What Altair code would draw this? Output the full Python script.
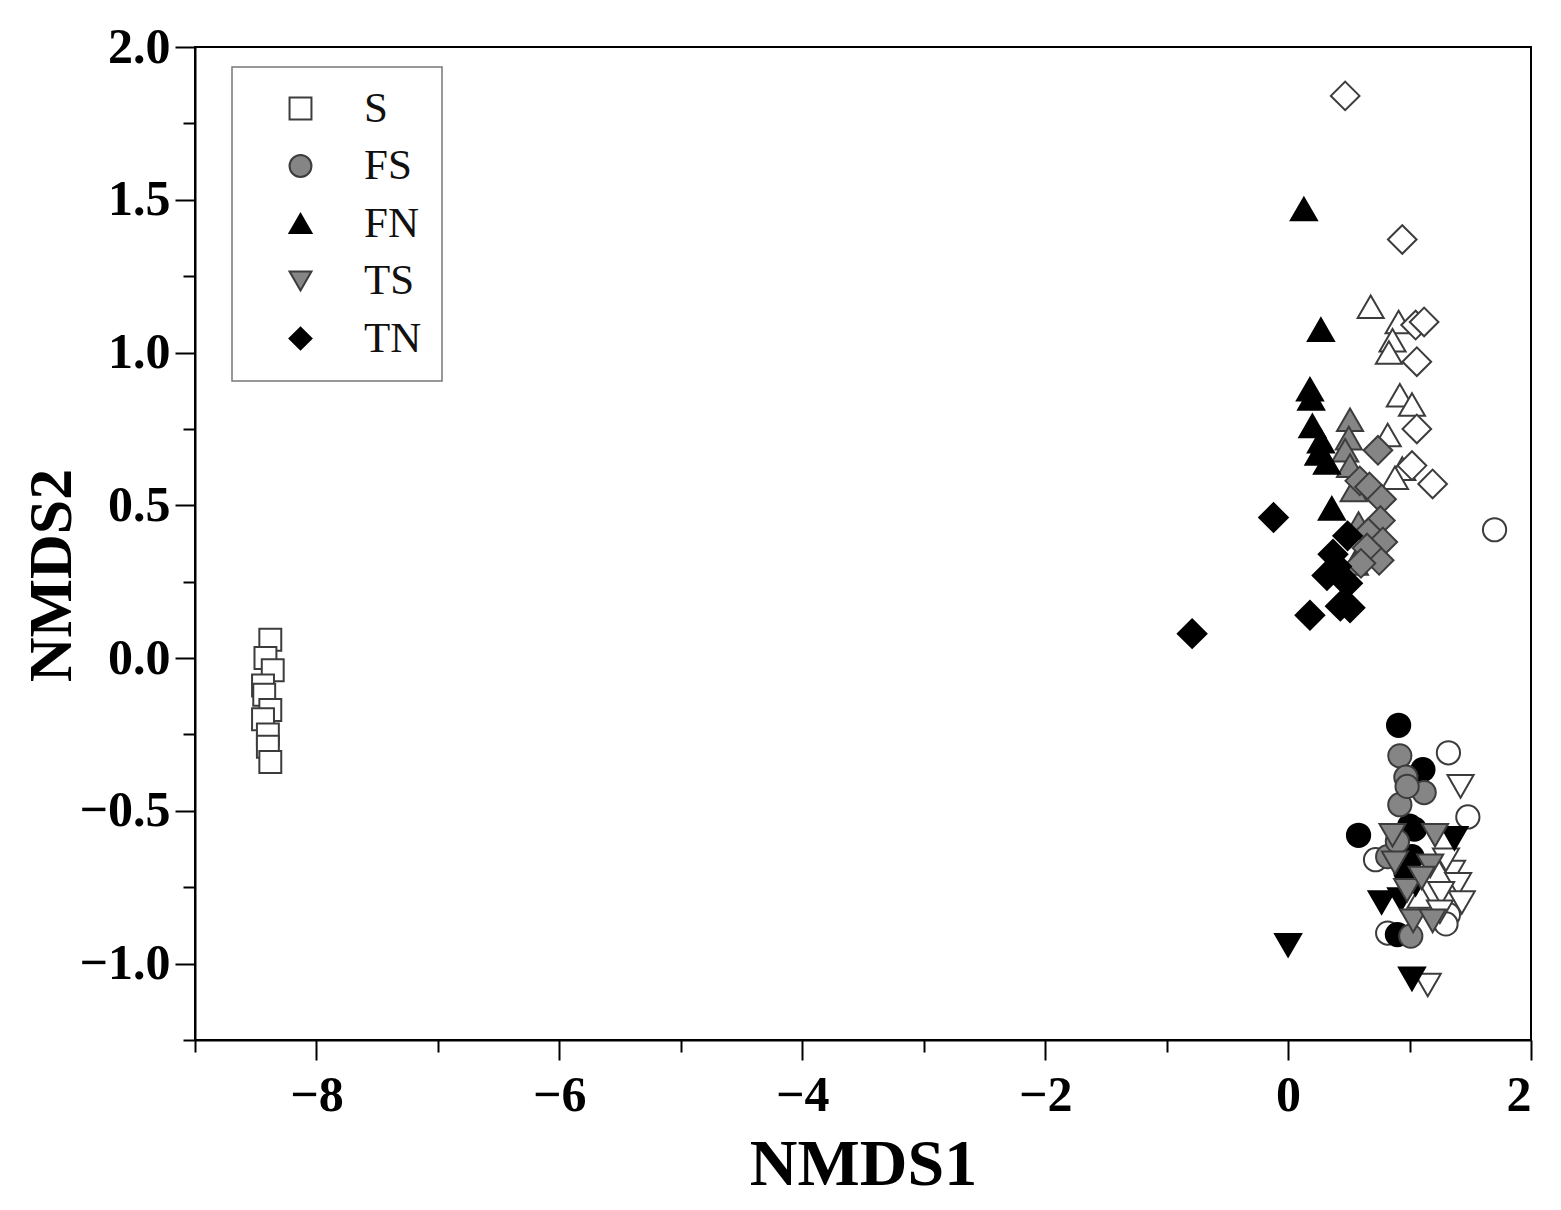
import altair as alt
import pandas as pd

# ---- data ----
# legend groups
S_x = [-8.38, -8.42, -8.36, -8.44, -8.43, -8.38, -8.44, -8.40, -8.40, -8.38]
S_y = [0.06, 0.00, -0.04, -0.09, -0.12, -0.17, -0.20, -0.25, -0.29, -0.34]
FS_x = [0.92, 0.97, 1.12, 0.92, 0.98, 0.82, 1.01, 0.90]
FS_y = [-0.32, -0.39, -0.44, -0.48, -0.42, -0.65, -0.91, -0.60]
FN_x = [0.13, 0.27, 0.18, 0.19, 0.20, 0.27, 0.32, 0.36, 0.25]
FN_y = [1.47, 1.075, 0.88, 0.85, 0.76, 0.71, 0.64, 0.49, 0.67]
TS_x = [0.86, 1.21, 1.17, 0.88, 1.03, 1.19, 0.98, 1.10]
TS_y = [-0.58, -0.58, -0.68, -0.67, -0.86, -0.86, -0.76, -0.72]
TN_x = [-0.12, -0.79, 0.49, 0.37, 0.32, 0.49, 0.43, 0.51, 0.18, 0.40]
TN_y = [0.46, 0.08, 0.40, 0.34, 0.27, 0.245, 0.17, 0.165, 0.14, 0.30]

# series without legend entries
WC_x = [1.70, 1.32, 1.48, 0.72, 1.32, 0.82, 1.30]
WC_y = [0.42, -0.31, -0.52, -0.66, -0.84, -0.90, -0.87]
BC_x = [0.91, 1.11, 1.00, 0.58, 1.02, 1.04, 0.90, 0.97]
BC_y = [-0.22, -0.365, -0.55, -0.58, -0.65, -0.56, -0.905, -0.70]
WU_x = [0.68, 0.91, 0.86, 0.83, 0.92, 1.02, 0.82, 0.94, 0.88, 1.09]
WU_y = [1.15, 1.10, 1.04, 1.00, 0.86, 0.83, 0.73, 0.62, 0.59, -0.78]
GU_x = [0.51, 0.50, 0.47, 0.51, 0.54, 0.58, 0.59, 0.55]
GU_y = [0.78, 0.72, 0.68, 0.63, 0.55, 0.44, 0.34, 0.31]
WD_x = [1.42, 1.35, 1.40, 1.43, 1.15, 1.26, 1.30, 1.25]
WD_y = [-0.42, -0.70, -0.74, -0.80, -1.07, -0.77, -0.66, -0.83]
BD_x = [1.37, 0.98, 0.77, 0.00, 1.02, 1.05, 0.93]
BD_y = [-0.59, -0.725, -0.80, -0.94, -1.05, -0.74, -0.79]
WDm_x = [0.47, 0.94, 1.05, 1.12, 1.06, 1.06, 1.02, 1.19]
WDm_y = [1.84, 1.37, 1.09, 1.10, 0.97, 0.75, 0.63, 0.57]
GDm_x = [0.74, 0.59, 0.67, 0.77, 0.76, 0.66, 0.78, 0.75, 0.65, 0.60]
GDm_y = [0.68, 0.58, 0.56, 0.52, 0.45, 0.41, 0.38, 0.32, 0.36, 0.31]

legend_groups = ["S", "FS", "FN", "TS", "TN"]

# ---- styles ----
WHITE, GREY, BLACK = "#ffffff", "#858585", "#000000"
EDGE = "#3c3c3c"
SIZES = {"square": 480, "circle": 540, "triangle-up": 680,
         "triangle-down": 680, "diamond": 820}

leg_shape = {"S": "square", "FS": "circle", "FN": "triangle-up",
             "TS": "triangle-down", "TN": "diamond"}
leg_fill = {"S": WHITE, "FS": GREY, "FN": BLACK, "TS": GREY, "TN": BLACK}
leg_stroke = {"S": EDGE, "FS": EDGE, "FN": BLACK, "TS": EDGE, "TN": BLACK}

leg_rows = []
for g, xs, ys in [("S", S_x, S_y), ("FS", FS_x, FS_y), ("FN", FN_x, FN_y),
                  ("TS", TS_x, TS_y), ("TN", TN_x, TN_y)]:
    for a, b in zip(xs, ys):
        leg_rows.append({"x": a, "y": b, "group": g, "sz": SIZES[leg_shape[g]]})
df_leg = pd.DataFrame(leg_rows)

other_rows = []
for xs, ys, shp, fill in [
    (WC_x, WC_y, "circle", WHITE), (BC_x, BC_y, "circle", BLACK),
    (WU_x, WU_y, "triangle-up", WHITE), (GU_x, GU_y, "triangle-up", GREY),
    (WD_x, WD_y, "triangle-down", WHITE), (BD_x, BD_y, "triangle-down", BLACK),
    (WDm_x, WDm_y, "diamond", WHITE), (GDm_x, GDm_y, "diamond", GREY),
]:
    for a, b in zip(xs, ys):
        other_rows.append({"x": a, "y": b, "shape": shp, "fill": fill,
                           "stroke": BLACK if fill == BLACK else EDGE,
                           "sz": SIZES[shp]})
df_other = pd.DataFrame(other_rows)

FONT = "Liberation Serif"

x_ticks = list(range(-9, 3))
y_ticks = [-1.25 + 0.25 * i for i in range(14)]

x_enc = alt.X("x:Q", title="NMDS1",
              scale=alt.Scale(domain=[-9, 2], nice=False, zero=False),
              axis=alt.Axis(values=x_ticks,
                            labelExpr="datum.value % 2 === 0 ? datum.label : ''",
                            format="d",
                            tickSize={"condition": {"test": "datum.value % 2 === 0", "value": 20}, "value": 12},
                            labelPadding=10, titlePadding=12))
y_enc = alt.Y("y:Q", title="NMDS2",
              scale=alt.Scale(domain=[-1.25, 2.0], nice=False, zero=False),
              axis=alt.Axis(values=y_ticks, format=".1f",
                            labelExpr="abs(datum.value*2 - round(datum.value*2)) < 0.001 ? datum.label : ''",
                            tickSize={"condition": {"test": "abs(datum.value*2 - round(datum.value*2)) < 0.001", "value": 20}, "value": 12},
                            labelPadding=5, titlePadding=-4, titleY=528, titleFontSize=62))

others = alt.Chart(df_other).mark_point(filled=True, opacity=1, strokeWidth=2).encode(
    x=x_enc, y=y_enc,
    shape=alt.Shape("shape:N", scale=None),
    fill=alt.Fill("fill:N", scale=None),
    stroke=alt.Stroke("stroke:N", scale=None),
    size=alt.Size("sz:Q", scale=None),
)

leg = alt.Legend(title=None, orient="none", legendX=37, legendY=20)
legend_layer = alt.Chart(df_leg).mark_point(filled=True, opacity=1, strokeWidth=2).encode(
    x=x_enc, y=y_enc,
    shape=alt.Shape("group:N", scale=alt.Scale(domain=legend_groups,
                    range=[leg_shape[g] for g in legend_groups]), legend=leg),
    fill=alt.Fill("group:N", scale=alt.Scale(domain=legend_groups,
                  range=[leg_fill[g] for g in legend_groups]), legend=leg),
    stroke=alt.Stroke("group:N", scale=alt.Scale(domain=legend_groups,
                      range=[leg_stroke[g] for g in legend_groups]), legend=leg),
    size=alt.Size("sz:Q", scale=None),
)

chart = alt.layer(others, legend_layer).properties(
    width=1336, height=993,
    autosize=alt.AutoSizeParams(type="none"),
    padding={"left": 195, "top": 47, "right": 30, "bottom": 170},
    background="white",
).configure_view(
    stroke="black", strokeWidth=2
).configure_axis(
    grid=False, domainColor="black", domainWidth=2, tickColor="black", tickWidth=2,
    labelFont=FONT, labelFontWeight="bold", labelFontSize=50, labelColor="black",
    titleFont=FONT, titleFontWeight="bold", titleFontSize=66, titleColor="black",
).configure_legend(
    padding=20, rowPadding=13.5, strokeColor="#777777", strokeWidth=1.5, fillColor="white",
    labelFont=FONT, labelFontSize=43, labelColor="#111111", symbolSize=480,
    symbolOffset=27, labelOffset=42, symbolStrokeWidth=2,
)

chart.save("out.html", embed_options={"renderer": "svg", "actions": False})
